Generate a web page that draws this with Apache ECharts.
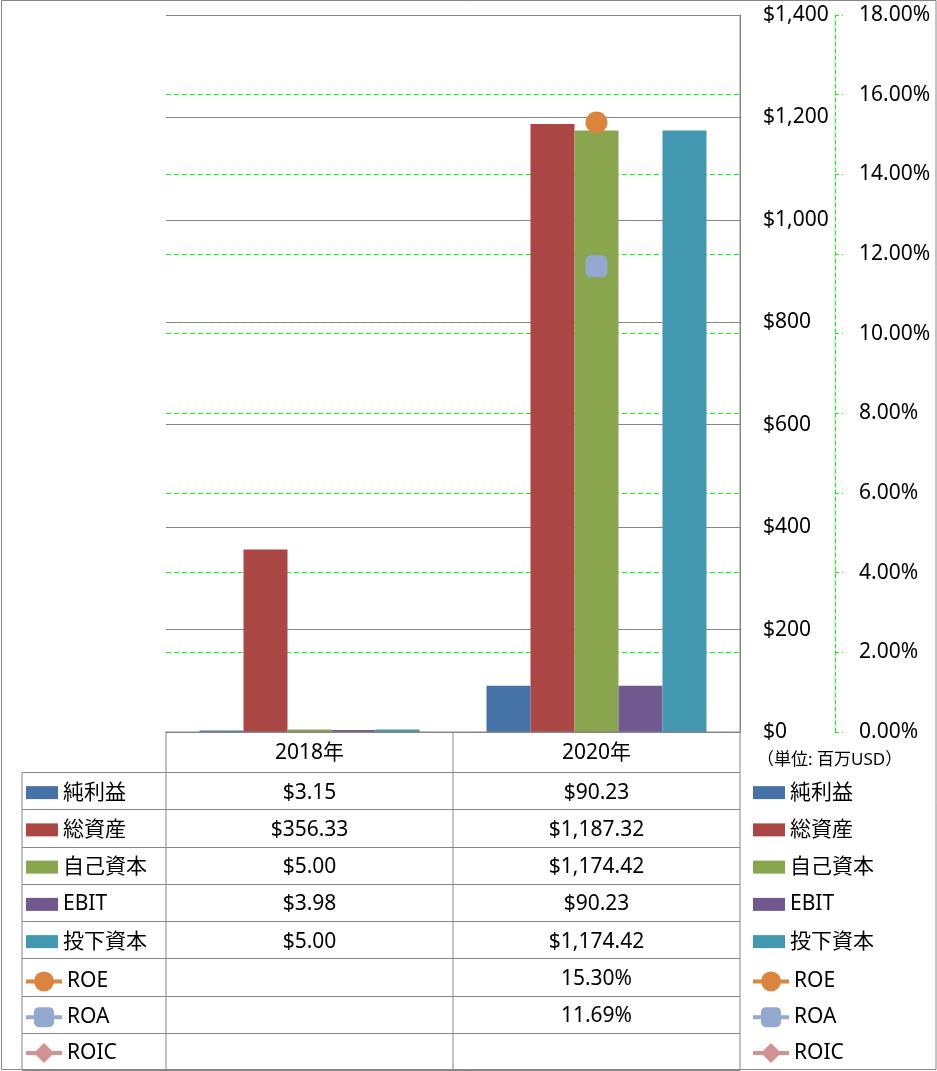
<!DOCTYPE html>
<html>
<head>
<meta charset="utf-8">
<script src="https://cdn.jsdelivr.net/npm/echarts@6/dist/echarts.min.js"></script>
<style>
html,body{margin:0;padding:0;background:#fff;}
#chart{width:937px;height:1071px;}
</style>
</head>
<body>
<div id="chart"></div>
<script>
// ---- data ----
const categories = ['2018年', '2020年'];
const barNames = ['純利益', '総資産', '自己資本', 'EBIT', '投下資本'];
const lineNames = ['ROE', 'ROA', 'ROIC'];
const netIncome = [3.15, 90.23];
const totalAssets = [356.33, 1187.32];
const equity = [5.00, 1174.42];
const ebit = [3.98, 90.23];
const investedCapital = [5.00, 1174.42];
const roe = [null, 15.30];
const roa = [null, 11.69];
const roic = [null, null];
const dollarAxis = { min: 0, max: 1400, interval: 200 };
const pctAxis = { min: 0, max: 18, interval: 2 };
const unitLabel = '（単位: 百万USD）';

const barData = [netIncome, totalAssets, equity, ebit, investedCapital];
const lineData = [roe, roa, roic];
const barColors = ['#4572A7', '#AA4643', '#89A54E', '#71588F', '#4198AF'];
const lineColors = ['#DB843D', '#93A9CF', '#D19392'];
const lineSymbols = ['circle', 'roundRect', 'diamond'];

const FONT = "'Noto Sans', 'Noto Sans CJK JP', sans-serif";
const GRID = '#868686';

const fmtDollar = v => '$' + v.toLocaleString('en-US', { minimumFractionDigits: 2, maximumFractionDigits: 2 });
const fmtPct = v => v.toFixed(2) + '%';

// ---- layout ----
const plotLeft = 166, plotRight = 740, plotTop = 15, plotBottom = 732;
const tableLeft = 22, headerH = 40, rowH = 37.25;
const colEdges = [tableLeft, plotLeft, 453, plotRight];
const rowsTop = plotBottom + headerH;
const nRows = barNames.length + lineNames.length;
const tableBottom = rowsTop + nRows * rowH;

const series = [];
barNames.forEach((n, i) => {
  series.push({
    name: n, type: 'bar', yAxisIndex: 0, data: barData[i],
    barWidth: 44, barGap: '0%',
    itemStyle: { color: barColors[i] }
  });
});
lineNames.forEach((n, i) => {
  series.push({
    name: n, type: 'line', yAxisIndex: 1, data: lineData[i],
    symbol: lineSymbols[i], symbolSize: 22, showSymbol: true,
    itemStyle: { color: lineColors[i] },
    lineStyle: { color: lineColors[i], width: 4 },
    z: 5
  });
});

// ---- table graphics ----
const g = [];
const ln = (x1, y1, x2, y2) => g.push({
  type: 'line', silent: true, z: 10,
  shape: { x1, y1, x2, y2 },
  style: { stroke: GRID, lineWidth: 1 }
});
const txt = (x, y, t, opts) => g.push(Object.assign({
  type: 'text', silent: true, z: 11, x, y,
  style: Object.assign({ text: t, font: '21px ' + FONT, fill: '#000', align: 'center', verticalAlign: 'middle' }, opts || {})
}));

// outer frame
g.push({ type: 'rect', silent: true, z: 9, shape: { x: 1.5, y: 0.5, width: 934.5, height: 1069 }, style: { fill: null, stroke: GRID, lineWidth: 1 } });
ln(plotLeft, plotBottom, plotRight, plotBottom);
for (let c = 1; c < colEdges.length; c++) {
  ln(colEdges[c], plotBottom, colEdges[c], tableBottom);
}
ln(plotRight, plotTop, plotRight, plotBottom);
ln(tableLeft, rowsTop, tableLeft, tableBottom);
for (let r = 0; r <= nRows; r++) {
  const y = Math.round(rowsTop + r * rowH) + 0.5;
  ln(tableLeft, y, plotRight, y);
}
// header text
categories.forEach((c, j) => {
  txt((colEdges[j + 1] + colEdges[j + 2]) / 2, plotBottom + headerH / 2 + 1, c);
});
// values
barData.forEach((arr, i) => {
  arr.forEach((v, j) => {
    if (v != null) txt((colEdges[j + 1] + colEdges[j + 2]) / 2, rowsTop + (i + 0.5) * rowH + 2, fmtDollar(v));
  });
});
lineData.forEach((arr, i) => {
  arr.forEach((v, j) => {
    if (v != null) txt((colEdges[j + 1] + colEdges[j + 2]) / 2, rowsTop + (barNames.length + i + 0.5) * rowH + 2, fmtPct(v));
  });
});
// unit label
txt(757, 760, unitLabel, { align: 'left', font: '17px ' + FONT });

const legendText = { fontSize: 21, fontFamily: FONT, color: '#000', lineHeight: 22 };
const barLegendTop = rowsTop + rowH / 2 - 9;
const lineLegendTop = rowsTop + (barNames.length + 0.5) * rowH - 6.5;
const mkLegend = (left, data, top, ih, iw, gap) => ({
  show: true, orient: 'vertical', left, top, data,
  itemWidth: iw, itemHeight: ih, itemGap: gap, padding: 0,
  textStyle: legendText, selectedMode: false,
  lineStyle: { width: 4 }
});

const option = {
  animation: false,
  backgroundColor: '#fff',
  textStyle: { fontFamily: FONT },
  grid: { left: plotLeft, right: 937 - plotRight, top: plotTop, bottom: 1071 - plotBottom, containLabel: false },
  legend: [
    mkLegend(26, barNames.map(n => ({ name: n, icon: 'rect' })), barLegendTop, 13, 32, rowH - 22),
    mkLegend(24, lineNames, lineLegendTop, 25, 36, rowH - 23.5),
    mkLegend(753, barNames.map(n => ({ name: n, icon: 'rect' })), barLegendTop, 13, 32, rowH - 22),
    mkLegend(751, lineNames, lineLegendTop, 25, 36, rowH - 23.5)
  ],
  xAxis: {
    type: 'category', data: categories,
    axisLine: { show: true, lineStyle: { color: GRID } },
    axisTick: { show: false }, axisLabel: { show: false }
  },
  yAxis: [
    {
      type: 'value', position: 'right', z: 1,
      min: dollarAxis.min, max: dollarAxis.max, interval: dollarAxis.interval,
      axisLine: { show: true, lineStyle: { color: GRID } },
      axisTick: { show: false },
      axisLabel: { margin: 23, align: 'left', fontSize: 21, fontFamily: FONT, color: '#000',
        formatter: v => '$' + v.toLocaleString('en-US') },
      splitLine: { show: true, lineStyle: { color: GRID, width: 1 } }
    },
    {
      type: 'value', position: 'right', offset: 95, z: 0,
      min: pctAxis.min, max: pctAxis.max, interval: pctAxis.interval,
      axisLine: { show: true, lineStyle: { color: '#00FF00', type: [4, 3], width: 1 } },
      axisTick: { show: true, inside: false, length: 8, lineStyle: { color: '#00FF00', type: [4, 3] } },
      axisLabel: { margin: 24, align: 'left', fontSize: 21, fontFamily: FONT, color: '#000',
        formatter: v => v.toFixed(2) + '%' },
      splitLine: { show: true, lineStyle: { color: '#00FF00', type: [5, 3], width: 1 } }
    }
  ],
  series,
  graphic: g
};

const chart = echarts.init(document.getElementById('chart'), null, { renderer: 'canvas' });
chart.setOption(option);
</script>
</body>
</html>
